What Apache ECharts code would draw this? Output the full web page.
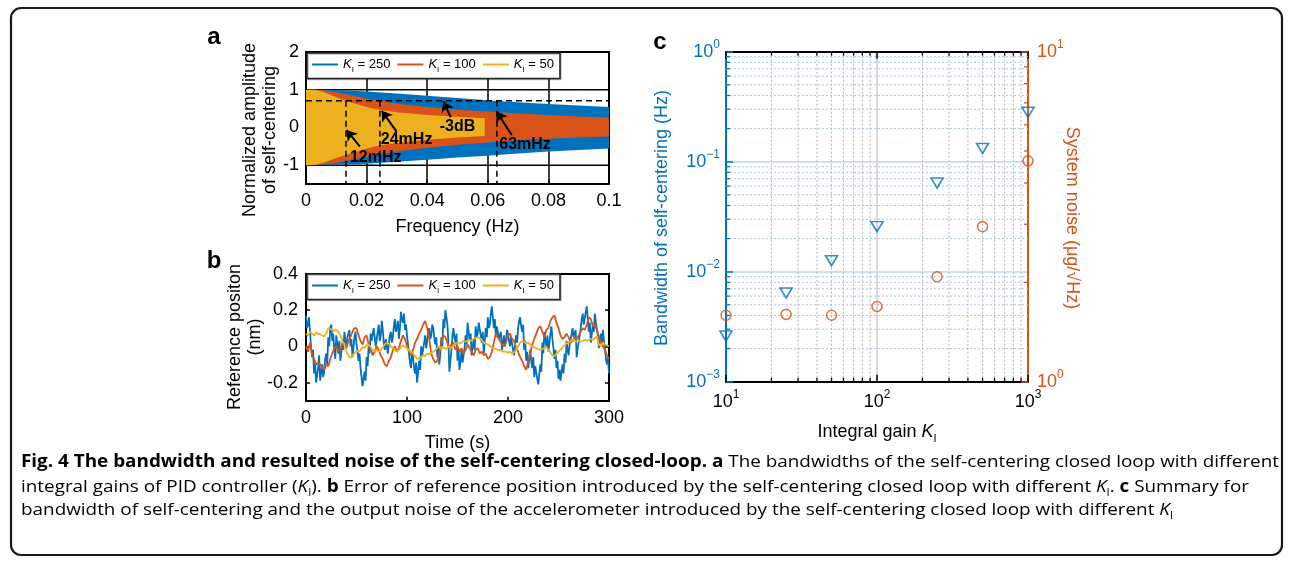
<!DOCTYPE html>
<html>
<head>
<meta charset="utf-8">
<script src="https://cdn.jsdelivr.net/npm/echarts@6/dist/echarts.min.js"></script>
<style>
html,body{margin:0;padding:0;background:#fff;}
#chart{width:1292px;height:567px;}
</style>
</head>
<body>
<div id="chart"></div>
<script>
// ======================= DATA =======================
const gainNames = ['250', '100', '50'];

// Panel a : envelope of the normalized self-centering amplitude vs frequency (Hz)
const freqK250  = [0, 0.008, 0.01, 0.02, 0.03, 0.04, 0.05, 0.06, 0.063, 0.07, 0.08, 0.09, 0.1];
const upperK250 = [1, 1, 0.99, 0.95, 0.9, 0.84, 0.78, 0.72, 0.7, 0.67, 0.62, 0.58, 0.54];
const lowerK250 = [-1, -1, -0.99, -0.96, -0.91, -0.86, -0.8, -0.75, -0.73, -0.69, -0.64, -0.6, -0.56];

const freqK100  = [0, 0.005, 0.01, 0.015, 0.02, 0.024, 0.03, 0.04, 0.05, 0.06, 0.063, 0.07, 0.08, 0.09, 0.1];
const upperK100 = [1, 0.99, 0.93, 0.85, 0.77, 0.71, 0.63, 0.54, 0.47, 0.42, 0.4, 0.37, 0.33, 0.29, 0.26];
const lowerK100 = [-1, -0.99, -0.94, -0.86, -0.78, -0.72, -0.64, -0.54, -0.46, -0.4, -0.38, -0.34, -0.3, -0.27, -0.24];

const freqK50   = [0, 0.003, 0.006, 0.01, 0.013, 0.02, 0.024, 0.03, 0.04, 0.05, 0.059];
const upperK50  = [1, 1, 0.93, 0.8, 0.71, 0.54, 0.47, 0.4, 0.33, 0.28, 0.245];
const lowerK50  = [-1, -0.99, -0.93, -0.81, -0.73, -0.56, -0.48, -0.41, -0.33, -0.27, -0.23];

const level3dB = 0.707;
const cutoffFreqs = [0.0132, 0.0244, 0.063];
const annotTexts = ['12mHz', '24mHz', '-3dB', '63mHz'];
const annotAnchors = [[0.023, -0.8], [0.0332, -0.31], [0.05, 0.035], [0.0723, -0.445]];
const arrowTails = [[0.0178, -0.51], [0.0299, -0.11], [0.0478, 0.27], [0.0679, -0.2]];
const arrowTips  = [[0.0134, -0.07], [0.025, 0.44], [0.0453, 0.69], [0.0629, 0.42]];

// Panel b : reference position (nm) vs time (s)
const timeStepK250 = 1;   // K_I = 250 sampled every 1 s
const timeStepSlow = 2;   // K_I = 100 and 50 sampled every 2 s
const posK250 = [
  0.17, 0.1, 0.12, 0.16, 0.08, 0.0, -0.06, -0.02, -0.15, -0.09,
  -0.2, -0.16, -0.12, -0.05, -0.19, -0.2, -0.1, -0.17, -0.14, -0.07,
  -0.04, -0.1, 0.05, 0.0, 0.1, 0.12, 0.03, 0.07, -0.02, -0.07,
  0.06, 0.01, -0.04, 0.03, -0.08, -0.03, 0.02, -0.02, 0.08, 0.03,
  -0.01, 0.05, 0.06, 0.09, 0.0, 0.04, -0.06, -0.01, 0.05, 0.08,
  0.01, -0.03, -0.08, -0.04, -0.12, -0.17, -0.22, -0.18, -0.14, -0.19,
  -0.06, -0.11, 0.0, -0.04, 0.07, 0.03, 0.02, 0.1, 0.09, 0.0,
  0.04, 0.08, 0.12, 0.03, 0.06, 0.14, 0.09, 0.02, -0.02, 0.04,
  0.03, -0.04, 0.01, 0.06, 0.08, 0.02, 0.05, 0.11, 0.15, 0.08,
  0.1, 0.14, 0.04, 0.1, 0.19, 0.15, 0.13, 0.18, 0.09, 0.12,
  0.06, 0.01, -0.04, -0.09, -0.12, -0.03, -0.06, -0.12, -0.15, -0.09,
  -0.2, -0.14, -0.08, -0.13, 0.0, -0.05, -0.04, 0.02, 0.06, -0.01,
  0.03, 0.08, 0.1, 0.04, 0.06, 0.12, 0.1, 0.05, 0.01, 0.05,
  -0.06, -0.01, -0.1, -0.04, 0.05, 0.0, 0.15, 0.1, 0.2, 0.16,
  0.12, 0.02, -0.14, -0.08, -0.02, 0.06, 0.1, 0.05, 0.02, 0.07,
  -0.08, -0.02, -0.13, -0.08, -0.02, -0.09, -0.08, -0.01, 0.06, 0.01,
  0.13, 0.08, 0.03, 0.07, -0.05, 0.0, 0.04, -0.02, 0.11, 0.05,
  0.07, 0.13, 0.12, 0.06, 0.02, 0.08, -0.04, 0.03, 0.1, 0.05,
  0.16, 0.1, 0.12, 0.18, 0.22, 0.16, 0.1, 0.15, 0.05, 0.11,
  0.1, 0.04, 0.03, 0.08, -0.02, 0.02, 0.06, 0.0, 0.03, 0.09,
  0.07, 0.03, 0.0, 0.05, 0.04, -0.02, -0.05, 0.01, 0.06, 0.02,
  0.1, 0.14, 0.16, 0.11, 0.08, 0.12, -0.02, 0.03, -0.08, -0.03,
  -0.12, -0.07, -0.02, -0.08, -0.12, -0.06, -0.17, -0.11, -0.12, -0.18,
  -0.21, -0.15, -0.1, -0.14, 0.02, -0.04, 0.08, 0.03, 0.0, 0.06,
  -0.03, 0.02, 0.07, 0.11, 0.04, -0.01, -0.07, -0.02, -0.12, -0.08,
  -0.18, -0.13, -0.19, -0.14, -0.1, -0.15, -0.04, -0.09, 0.03, -0.02,
  -0.05, 0.01, 0.02, 0.07, 0.1, 0.05, 0.04, 0.09, -0.06, -0.01,
  0.02, 0.06, 0.1, 0.15, 0.18, 0.12, 0.13, 0.19, 0.22, 0.15,
  0.08, 0.13, 0.02, 0.07, 0.12, 0.08, 0.18, 0.13, 0.14, 0.06,
  -0.01, 0.04, 0.07, 0.02, 0.09, 0.03, -0.02, -0.07, -0.1, -0.06,
  -0.15
];
const posK100 = [
  0.0, -0.03, 0.02, -0.05, -0.07, -0.1, -0.09, -0.1, -0.12, -0.13, -0.1,
  -0.11, -0.07, -0.04, -0.01, 0.0, -0.03, -0.02, 0.01, 0.02, -0.01,
  0.03, 0.05, 0.08, 0.1, 0.1, 0.06, 0.03, 0.01, 0.05, 0.06,
  0.01, -0.01, -0.05, -0.03, 0.0, -0.02, -0.05, -0.07, -0.1, -0.11,
  -0.08, -0.06, -0.02, 0.0, -0.03, -0.01, 0.03, 0.06, 0.04, 0.0,
  -0.03, -0.05, -0.02, 0.02, 0.04, 0.07, 0.09, 0.12, 0.14, 0.1,
  0.04, -0.04, -0.07, -0.09, -0.08, -0.04, 0.02, 0.06, 0.05, 0.02,
  -0.01, 0.01, 0.02, -0.02, 0.0, -0.03, -0.01, -0.04, -0.02, 0.01,
  -0.01, -0.03, -0.05, -0.02, -0.01, -0.04, -0.03, -0.05, -0.04, -0.07,
  -0.06, -0.03, 0.02, 0.07, 0.05, 0.03, 0.01, 0.0, 0.02, 0.06,
  0.07, 0.04, 0.03, -0.01, -0.03, -0.06, -0.08, -0.11, -0.13, -0.08,
  -0.04, 0.01, 0.04, 0.07, 0.1, 0.11, 0.08, 0.05, 0.09, 0.1,
  0.14, 0.16, 0.17, 0.13, 0.1, 0.06, 0.04, 0.05, 0.07, 0.05,
  0.02, 0.03, 0.05, 0.04, 0.06, 0.08, 0.1, 0.09, 0.12, 0.16,
  0.15, 0.11, 0.12, 0.09, 0.05, 0.02, 0.0, -0.02, -0.05, -0.07
];
const posK50 = [
  0.07, 0.06, 0.08, 0.07, 0.06, 0.075, 0.07, 0.065, 0.06, 0.055, 0.07,
  0.1, 0.095, 0.09, 0.085, 0.09, 0.08, 0.06, 0.03, 0.01, -0.03,
  -0.05, -0.065, -0.05, -0.04, -0.025, -0.03, -0.02, -0.005, -0.01, 0.005,
  0.01, -0.005, -0.02, -0.025, -0.02, -0.03, -0.02, -0.005, 0.01, 0.02,
  0.015, 0.0, -0.01, -0.02, -0.03, -0.02, -0.005, 0.005, -0.005, -0.01,
  -0.02, -0.03, -0.04, -0.055, -0.07, -0.065, -0.06, -0.05, -0.055, -0.04,
  -0.045, -0.035, -0.03, -0.02, -0.01, 0.0, -0.015, -0.005, -0.015, -0.01,
  0.0, -0.01, 0.005, 0.01, 0.02, 0.015, 0.02, 0.03, 0.025, 0.03,
  0.035, 0.03, 0.04, 0.045, 0.05, 0.045, 0.035, 0.02, 0.015, 0.01,
  0.0, -0.005, -0.01, -0.015, -0.02, -0.02, -0.025, -0.03, -0.03, -0.035,
  -0.03, -0.04, -0.035, -0.02, 0.0, 0.02, 0.03, 0.025, 0.015, 0.02,
  0.01, 0.0, -0.005, -0.01, -0.015, -0.02, -0.015, -0.01, -0.005, -0.02,
  -0.035, -0.05, -0.055, -0.04, -0.03, -0.02, -0.005, 0.005, 0.015, 0.02,
  0.03, 0.035, 0.03, 0.025, 0.03, 0.025, 0.03, 0.035, 0.03, 0.035,
  0.04, 0.035, 0.045, 0.055, 0.01, 0.0, 0.02, 0.01, 0.005, 0.0
];

// Panel c : bandwidth (Hz, left log axis) and system noise (ug/rtHz, right log axis) vs K_I
const gainsC = [10, 25, 50, 100, 250, 500, 1000];
const bandwidthHz = [0.0026, 0.0064, 0.0126, 0.0257, 0.064, 0.132, 0.281];
const noiseUgRtHz = [1.59, 1.6, 1.59, 1.69, 2.08, 2.95, 4.67];

// tick values
const aYTicks = [-1, 0, 1, 2];
const bYTicks = [-0.2, 0, 0.2, 0.4];
const cMinorX = [20, 30, 40, 50, 60, 70, 80, 90, 200, 300, 400, 500, 600, 700, 800, 900];
const cMinorYLeft = [0.002, 0.003, 0.004, 0.005, 0.006, 0.007, 0.008, 0.009,
                     0.02, 0.03, 0.04, 0.05, 0.06, 0.07, 0.08, 0.09,
                     0.2, 0.3, 0.4, 0.5, 0.6, 0.7, 0.8, 0.9];
const cMinorYRight = [2, 3, 4, 5, 6, 7, 8, 9];

// ======================= STYLE / LAYOUT =======================
const BLUE = '#0072BD', ORANGE = '#D95319', YELLOW = '#EDB120', BLACK = '#000';
const FONT = 'Liberation Sans';
const gainColors = [BLUE, ORANGE, YELLOW];

const chart = echarts.init(document.getElementById('chart'), null, {width: 1292, height: 567});

function axLine(color) { return {show: true, onZero: false, lineStyle: {color: color, width: 2}}; }
function tick(color, len, custom) {
  const t = {show: true, inside: true, length: len, lineStyle: {color: color, width: 1.5}};
  if (custom) t.customValues = custom;
  return t;
}
function logLabel(v) {
  const e = Math.round(Math.log10(v));
  return '{b|10}{e|' + (e < 0 ? '\u2212' + (-e) : e) + '}';
}
function logRich(color) {
  return {
    b: {fontSize: 18, lineHeight: 26, fontFamily: FONT, color: color},
    e: {fontSize: 12, lineHeight: 12, verticalAlign: 'top', fontFamily: FONT, color: color}
  };
}

const xAxis = [
  // panel a
  {gridIndex: 0, type: 'value', min: 0, max: 0.1, interval: 0.02, axisLine: axLine(BLACK), axisTick: tick(BLACK, 4),
   axisLabel: {margin: 8, fontSize: 18, fontFamily: FONT, color: BLACK,
     formatter: v => v === 0 ? '0' : String(Math.round(v * 100) / 100)},
   splitLine: {show: true, lineStyle: {color: BLACK, width: 1.5}}},
  {gridIndex: 0, type: 'value', position: 'top', min: 0, max: 0.1, interval: 0.02, axisLine: axLine(BLACK),
   axisTick: tick(BLACK, 4), axisLabel: {show: false}, splitLine: {show: false}},
  // panel b
  {gridIndex: 1, type: 'value', min: 0, max: 300, interval: 100, axisLine: axLine(BLACK), axisTick: tick(BLACK, 4),
   axisLabel: {margin: 8, fontSize: 18, fontFamily: FONT, color: BLACK}, splitLine: {show: false}},
  {gridIndex: 1, type: 'value', position: 'top', min: 0, max: 300, interval: 100, axisLine: axLine(BLACK),
   axisTick: tick(BLACK, 4), axisLabel: {show: false}, splitLine: {show: false}},
  // panel c
  {gridIndex: 2, type: 'log', logBase: 10, min: 10, max: 1000, axisLine: axLine(BLACK), axisTick: tick(BLACK, 7),
   axisLabel: {margin: 7, formatter: logLabel, rich: logRich(BLACK)},
   splitLine: {show: true, lineStyle: {color: '#d9d9d9', width: 2}}},
  {gridIndex: 2, type: 'log', logBase: 10, position: 'top', min: 10, max: 1000, axisLine: axLine(BLACK),
   axisTick: tick(BLACK, 7), axisLabel: {show: false}, splitLine: {show: false}}
];

const yAxis = [
  // panel a
  {gridIndex: 0, type: 'value', min: -1.5, max: 2, interval: 0.5, axisLine: axLine(BLACK),
   axisTick: tick(BLACK, 4, aYTicks),
   axisLabel: {customValues: aYTicks, margin: 7, fontSize: 18, fontFamily: FONT, color: BLACK},
   splitLine: {show: false}},
  {gridIndex: 0, type: 'value', position: 'right', min: -1.5, max: 2, interval: 0.5, axisLine: axLine(BLACK),
   axisTick: {show: false}, axisLabel: {show: false}, splitLine: {show: false}},
  // panel b
  {gridIndex: 1, type: 'value', min: -0.3, max: 0.4, interval: 0.1, axisLine: axLine(BLACK),
   axisTick: tick(BLACK, 4, bYTicks),
   axisLabel: {customValues: bYTicks, margin: 8, fontSize: 18, fontFamily: FONT, color: BLACK,
     formatter: v => Math.abs(v) < 1e-9 ? '0' : v.toFixed(1)},
   splitLine: {show: false}},
  {gridIndex: 1, type: 'value', position: 'right', min: -0.3, max: 0.4, interval: 0.1, axisLine: axLine(BLACK),
   axisTick: tick(BLACK, 4, bYTicks), axisLabel: {show: false}, splitLine: {show: false}},
  // panel c
  {gridIndex: 2, type: 'log', logBase: 10, min: 0.001, max: 1, axisLine: axLine(BLUE), axisTick: tick(BLUE, 7),
   axisLabel: {margin: 6, formatter: logLabel, rich: logRich(BLUE)},
   splitLine: {show: true, lineStyle: {color: '#cfe1f1', width: 2}}},
  {gridIndex: 2, type: 'log', logBase: 10, position: 'right', min: 1, max: 10, axisLine: axLine(ORANGE),
   axisTick: tick(ORANGE, 7), axisLabel: {margin: 9, formatter: logLabel, rich: logRich(ORANGE)},
   splitLine: {show: false}}
];

// generic segment drawer through the library's coordinate system
function segSeries(xi, yi, pts, segFn, style, z) {
  return {
    type: 'custom', xAxisIndex: xi, yAxisIndex: yi, z: z, silent: true, clip: false, animation: false,
    data: pts,
    renderItem: function (params, api) {
      const segs = segFn(api, api.value(0), api.value(1));
      return {type: 'group', children: segs.map(s => ({
        type: 'line', shape: {x1: s[0], y1: s[1], x2: s[2], y2: s[3]}, style: Object.assign({}, style)
      }))};
    }
  };
}

const series = [];

// panel a horizontal black grid lines
series.push(segSeries(0, 0, aYTicks.map(v => [0, v]), (api, x, y) => {
  const p0 = api.coord([0, y]), p1 = api.coord([0.1, y]);
  return [[p0[0], p0[1], p1[0], p1[1]]];
}, {stroke: BLACK, lineWidth: 1.5}, 1));

// panel a envelopes
function envSeries(name, f, vals, color, origin) {
  return {
    type: 'line', name: name, xAxisIndex: 0, yAxisIndex: 0, z: 2, silent: true, animation: false,
    data: f.map((x, i) => [x, vals[i]]), symbol: 'none', showSymbol: false,
    lineStyle: {width: 0, opacity: 0}, itemStyle: {color: color},
    areaStyle: {color: color, opacity: 1, origin: origin}
  };
}
const envF = [freqK250, freqK100, freqK50];
const envU = [upperK250, upperK100, upperK50];
const envL = [lowerK250, lowerK100, lowerK50];
gainNames.forEach((g, i) => {
  series.push(envSeries('a' + g, envF[i], envU[i], gainColors[i], -0.02));
  series.push(envSeries('a' + g, envF[i], envL[i], gainColors[i], 0.02));
});

// panel a dashed -3 dB lines and arrows
const dashStyle = {color: BLACK, width: 1.5, type: [6, 4]};
series.push({
  type: 'line', xAxisIndex: 0, yAxisIndex: 0, z: 5, silent: true, animation: false, symbol: 'none',
  data: [[0, level3dB], [0.1, level3dB]], lineStyle: dashStyle,
  markLine: {
    silent: true, animation: false, symbol: ['none', 'arrow'], symbolSize: 10,
    label: {show: false}, lineStyle: {color: BLACK, width: 2, type: 'solid'},
    data: arrowTails.map((t, i) => [{coord: t}, {coord: arrowTips[i]}])
  }
});
cutoffFreqs.forEach(f => {
  series.push({
    type: 'line', xAxisIndex: 0, yAxisIndex: 0, z: 5, silent: true, animation: false, symbol: 'none',
    data: [[f, level3dB], [f, -1.5]], lineStyle: dashStyle
  });
});
// panel a annotation texts
series.push({
  type: 'custom', xAxisIndex: 0, yAxisIndex: 0, z: 6, silent: true, animation: false,
  data: annotAnchors,
  renderItem: function (params, api) {
    const p = api.coord([api.value(0), api.value(1)]);
    return {type: 'text', x: p[0], y: p[1], style: {
      text: annotTexts[params.dataIndex], fill: BLACK, font: 'bold 16px "Liberation Sans"',
      align: 'center', verticalAlign: 'middle', textAlign: 'center', textVerticalAlign: 'middle'}};
  }
});

// panel b lines
const posArr = [posK250, posK100, posK50];
const posStep = [timeStepK250, timeStepSlow, timeStepSlow];
gainNames.forEach((g, i) => {
  series.push({
    type: 'line', name: 'b' + g, xAxisIndex: 2, yAxisIndex: 2, z: 2 + i, silent: true, animation: false,
    symbol: 'none', showSymbol: false,
    data: posArr[i].map((v, k) => [k * posStep[i], v]),
    itemStyle: {color: gainColors[i]}, lineStyle: {color: gainColors[i], width: 1.8}
  });
});

// panel c minor grid lines and minor ticks
series.push(segSeries(4, 4, cMinorYLeft.map(v => [10, v]), (api, x, y) => {
  const p0 = api.coord([10, y]), p1 = api.coord([1000, y]);
  return [[p0[0], p0[1], p1[0], p1[1]]];
}, {stroke: '#a9c6e2', lineWidth: 1, lineDash: [2, 2]}, 1));
series.push(segSeries(4, 4, cMinorX.map(v => [v, 0.001]), (api, x, y) => {
  const p0 = api.coord([x, 0.001]), p1 = api.coord([x, 1]);
  return [[p0[0], p0[1], p1[0], p1[1]]];
}, {stroke: '#b4b4b4', lineWidth: 1, lineDash: [2, 2]}, 1));
series.push(segSeries(4, 4, cMinorYLeft.map(v => [10, v]), (api, x, y) => {
  const p = api.coord([10, y]);
  return [[p[0], p[1], p[0] + 4, p[1]]];
}, {stroke: BLUE, lineWidth: 1.3}, 4));
series.push(segSeries(4, 5, cMinorYRight.map(v => [1000, v]), (api, x, y) => {
  const p = api.coord([1000, y]);
  return [[p[0], p[1], p[0] - 4, p[1]]];
}, {stroke: ORANGE, lineWidth: 1.3}, 4));
series.push(segSeries(4, 4, cMinorX.map(v => [v, 0.001]), (api, x, y) => {
  const p0 = api.coord([x, 0.001]), p1 = api.coord([x, 1]);
  return [[p0[0], p0[1], p0[0], p0[1] - 4], [p1[0], p1[1], p1[0], p1[1] + 4]];
}, {stroke: BLACK, lineWidth: 1.3}, 4));

// panel c markers
series.push({
  type: 'scatter', name: 'bandwidth', xAxisIndex: 4, yAxisIndex: 4, z: 6, silent: true, animation: false,
  symbol: 'triangle', symbolRotate: 180, symbolSize: [12, 10],
  itemStyle: {color: 'rgba(0,0,0,0)', borderColor: BLUE, borderWidth: 1.6},
  data: gainsC.map((g, i) => [g, bandwidthHz[i]])
});
series.push({
  type: 'scatter', name: 'noise', xAxisIndex: 4, yAxisIndex: 5, z: 6, silent: true, animation: false,
  symbol: 'circle', symbolSize: 10,
  itemStyle: {color: 'rgba(0,0,0,0)', borderColor: ORANGE, borderWidth: 1.6},
  data: gainsC.map((g, i) => [g, noiseUgRtHz[i]])
});

// legends
function legendFor(prefix, top) {
  return {
    data: gainNames.map(g => prefix + g), left: 307, top: top, orient: 'horizontal',
    icon: 'rect', itemWidth: 26, itemHeight: 2, itemGap: 7, selectedMode: false,
    backgroundColor: '#fff', borderColor: '#222', borderWidth: 1.5, borderRadius: 0,
    padding: [5, 6, 5, 5],
    shadowColor: 'rgba(0,0,0,0.25)', shadowBlur: 0, shadowOffsetX: 1, shadowOffsetY: 1,
    formatter: name => '{k|K}{s|I}{t| = ' + name.slice(1) + '}',
    textStyle: {
      fontFamily: FONT, fontSize: 13, color: BLACK,
      rich: {
        k: {fontFamily: FONT, fontSize: 13, fontStyle: 'italic', lineHeight: 18, color: BLACK},
        s: {fontFamily: FONT, fontSize: 8, lineHeight: 9, verticalAlign: 'bottom', color: BLACK},
        t: {fontFamily: FONT, fontSize: 13, lineHeight: 18, color: BLACK}
      }
    }
  };
}

// ---------- graphic: labels, caption, border ----------
function txt(text, x, y, opts) {
  opts = opts || {};
  const el = {
    type: 'text', x: x, y: y, rotation: opts.rotation || 0, z: 50, silent: true,
    style: {
      text: text, fill: opts.color || BLACK,
      font: (opts.weight || 'normal') + ' ' + (opts.size || 18) + 'px "' + (opts.family || FONT) + '"',
      fontSize: opts.size || 18, fontFamily: opts.family || FONT, fontWeight: opts.weight || 'normal',
      lineHeight: opts.lineHeight,
      align: opts.align || 'center', verticalAlign: 'middle',
      textAlign: opts.align || 'center', textVerticalAlign: 'middle'
    }
  };
  if (opts.rich) el.style.rich = opts.rich;
  if (opts.scaleX) { el.scaleX = opts.scaleX; }
  return el;
}
const kRich = {
  n: {fontFamily: FONT, fontSize: 18, lineHeight: 24, color: BLACK},
  i: {fontFamily: FONT, fontSize: 18, lineHeight: 24, fontStyle: 'italic', color: BLACK},
  s: {fontFamily: FONT, fontSize: 11, lineHeight: 11, verticalAlign: 'bottom', color: BLACK}
};

// caption
const capSegs = [
  [['Fig. 4 The bandwidth and resulted noise of the self-centering closed-loop. a', 'bd'],
   [' The bandwidths of the self-centering closed loop with different', 'r']],
  [['integral gains of PID controller (', 'r'], ['K', 'i'], ['I', 'sub'], ['). ', 'r'], ['b', 'bd'],
   [' Error of reference position introduced by the self-centering closed loop with different ', 'r'],
   ['K', 'i'], ['I', 'sub'], ['. ', 'r'], ['c', 'bd'], [' Summary for', 'r']],
  [['bandwidth of self-centering and the output noise of the accelerometer introduced by the self-centering closed loop with different ', 'r'],
   ['K', 'i'], ['I', 'sub']]
];
const CAP_FAMILY = 'Open Sans', CAP_SIZE = 17, CAP_SUB = 10;
const capTargetW = [1258, 1228, 1152];
const capY = [462, 487, 510];
const mctx = document.createElement('canvas').getContext('2d');
function capFont(st) {
  const size = st === 'sub' ? CAP_SUB : CAP_SIZE;
  return (st === 'i' ? 'italic' : 'normal') + ' ' + (st === 'bd' ? 'bold' : 'normal') + ' ' + size + 'px "' + CAP_FAMILY + '"';
}
const capRich = {
  bd: {fontFamily: CAP_FAMILY, fontSize: CAP_SIZE, fontWeight: 'bold', lineHeight: 22, color: '#111'},
  r:  {fontFamily: CAP_FAMILY, fontSize: CAP_SIZE, lineHeight: 22, color: '#111'},
  i:  {fontFamily: CAP_FAMILY, fontSize: CAP_SIZE, fontStyle: 'italic', lineHeight: 22, color: '#111'},
  sub:{fontFamily: CAP_FAMILY, fontSize: CAP_SUB, lineHeight: 10, verticalAlign: 'bottom', color: '#111'}
};
const captionEls = capSegs.map((segs, li) => {
  let w = 0;
  segs.forEach(([t, st]) => { mctx.font = capFont(st); w += mctx.measureText(t).width; });
  const str = segs.map(([t, st]) => '{' + st + '|' + t + '}').join('');
  return txt(str, 21, capY[li], {align: 'left', rich: capRich, size: CAP_SIZE, family: CAP_FAMILY,
    scaleX: w > 0 ? capTargetW[li] / w : 1});
});

const graphic = [
  {type: 'rect', z: 60, silent: true, shape: {x: 11, y: 8, width: 1271, height: 547, r: 10},
   style: {fill: 'rgba(0,0,0,0)', stroke: '#1a1a1a', lineWidth: 2.2}},
  txt('a', 214, 37, {size: 24, weight: 'bold'}),
  txt('b', 214, 261, {size: 24, weight: 'bold'}),
  txt('c', 660, 42, {size: 24, weight: 'bold'}),
  txt('Normalized amplitude\nof self-centering', 260, 130, {rotation: Math.PI / 2, lineHeight: 20}),
  txt('Frequency (Hz)', 457.5, 227),
  txt('Reference positon\n(nm)', 245, 337, {rotation: Math.PI / 2, lineHeight: 20}),
  txt('Time (s)', 457.5, 443),
  txt('Bandwidth of self-centering (Hz)', 662, 218, {rotation: Math.PI / 2, color: BLUE}),
  txt('System noise (\u03bcg/\u221aHz)', 1072, 218, {rotation: -Math.PI / 2, color: ORANGE}),
  txt('{n|Integral gain }{i|K}{s|I}', 877, 432, {rich: kRich})
].concat(captionEls);

chart.setOption({
  animation: false,
  backgroundColor: '#fff',
  grid: [
    {left: 306, top: 52, width: 303, height: 132, outerBoundsMode: 'none'},
    {left: 306, top: 273.7, width: 303, height: 127, outerBoundsMode: 'none'},
    {left: 726, top: 51.7, width: 302, height: 330, outerBoundsMode: 'none'}
  ],
  xAxis: xAxis,
  yAxis: yAxis,
  legend: [legendFor('a', 53), legendFor('b', 274)],
  series: series,
  graphic: {elements: graphic}
});
</script>
</body>
</html>
